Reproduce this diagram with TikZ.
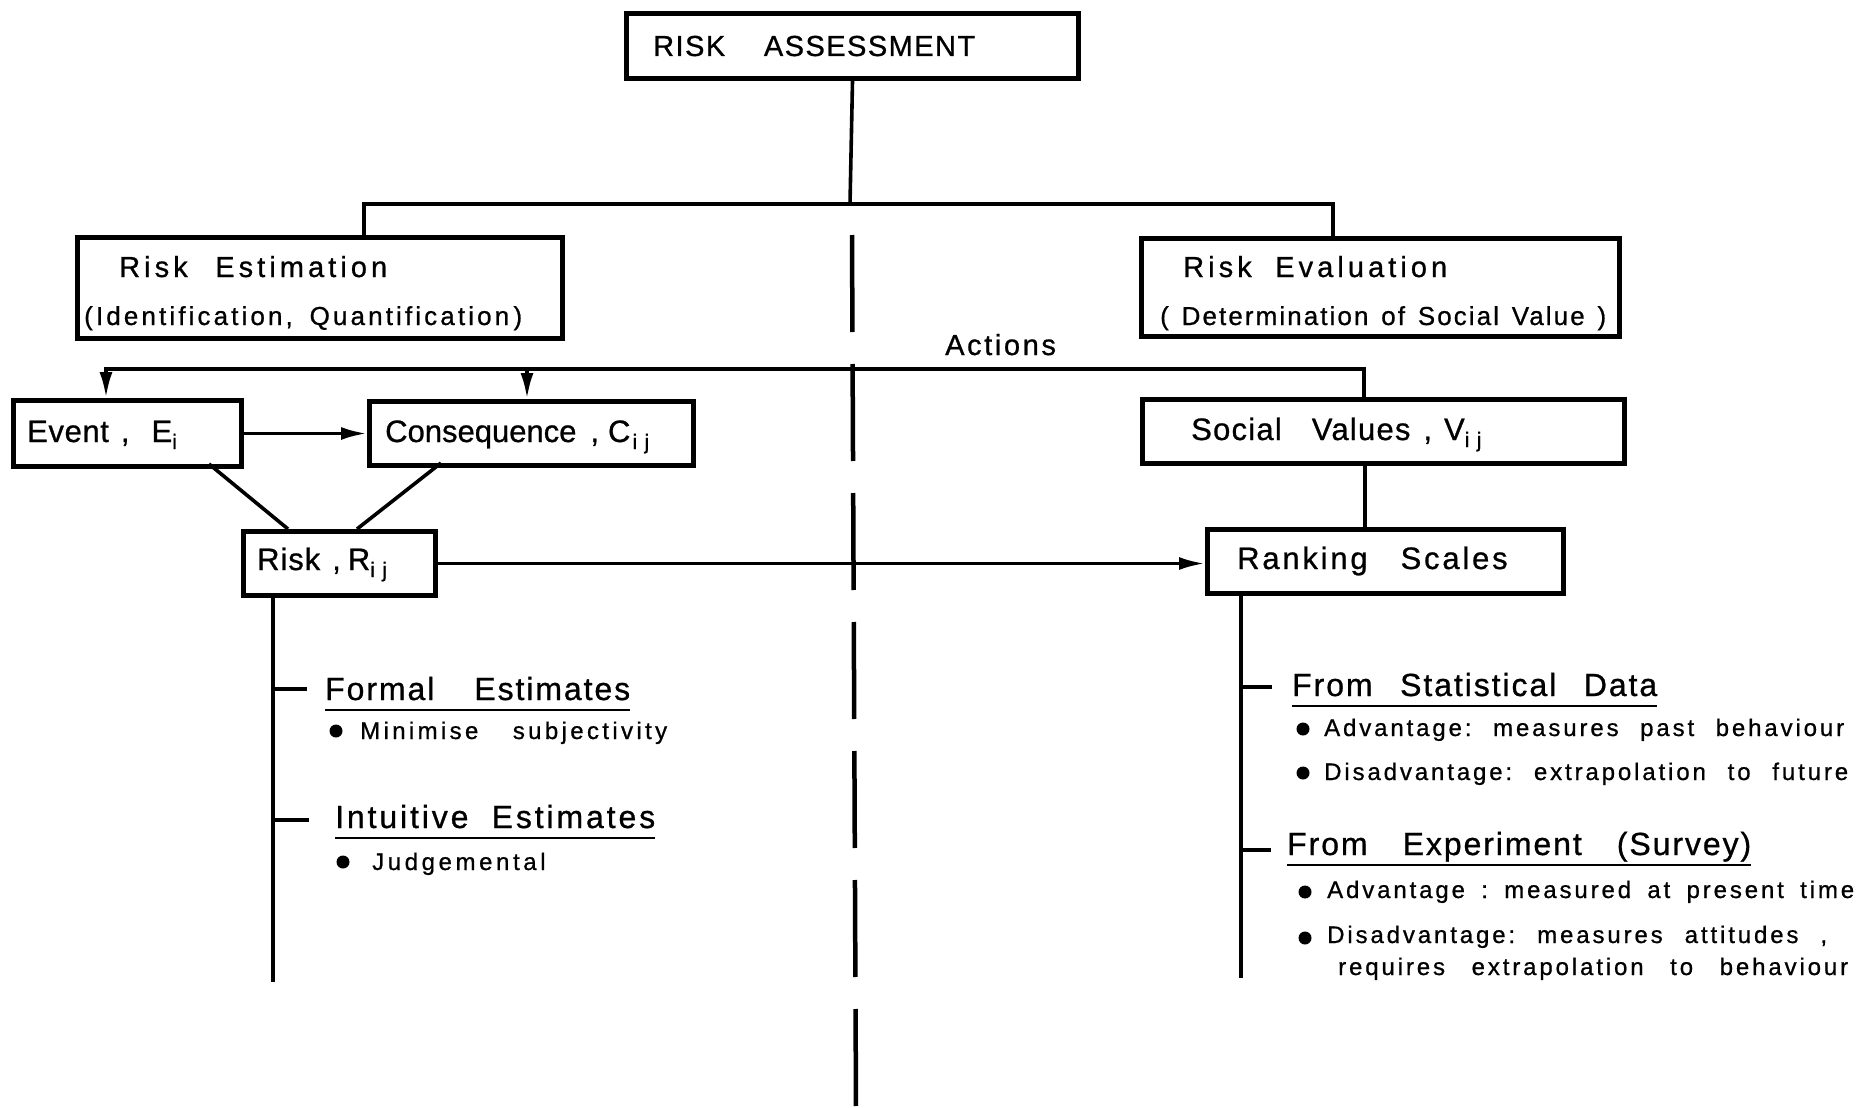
\documentclass[tikz,border=0pt]{standalone}
\usepackage{fontspec}
\setmainfont[FakeBold=0.8]{Liberation Sans}
\usetikzlibrary{arrows.meta}
\frenchspacing
\newcommand\spread[2]{\makebox[#1pt][s]{#2}}
\newcommand\ftx[2]{\fontsize{#1pt}{#1pt}\selectfont\addfontfeature{LetterSpace=#2}}
\newcommand\subs[1]{\raisebox{-7pt}{\fontsize{21pt}{21pt}\selectfont\addfontfeature{LetterSpace=35}#1}}
\begin{document}
\begin{tikzpicture}[x=1pt,y=-1pt,
  boxnode/.style={draw, line width=5pt, inner sep=0pt, anchor=north west},
  lbl/.style={inner sep=0pt, anchor=base west},
  ln/.style={line width=3.6pt},
  arr/.style={line width=3.6pt, -{Latex[length=26pt,width=13pt]}},
  ul/.style={line width=2.8pt},
  dotn/.style={circle, fill, inner sep=0pt, minimum size=13pt},
  dashln/.style={line width=4.5pt, dash pattern=on 97pt off 32pt}]

\useasboundingbox[fill=white] (0,0) rectangle (1864,1108);

% ---------- boxes
\node[boxnode, minimum width=452pt, minimum height=65pt] (ra) at (624,11) {};
\node[boxnode, minimum width=485pt, minimum height=101pt] (est) at (75,235) {};
\node[boxnode, minimum width=478pt, minimum height=98pt] (eva) at (1139,236) {};
\node[boxnode, minimum width=228pt, minimum height=66pt] (ev) at (11,398) {};
\node[boxnode, minimum width=324pt, minimum height=64pt] (con) at (367,399) {};
\node[boxnode, minimum width=482pt, minimum height=64pt] (sv) at (1140,397) {};
\node[boxnode, minimum width=192pt, minimum height=64pt] (rk) at (241,529) {};
\node[boxnode, minimum width=356pt, minimum height=64pt] (rs) at (1205,527) {};

% ---------- box texts
\node[lbl] (ra-t) at (653,56) {\ftx{29}{5}\spread{322}{RISK ASSESSMENT}};
\node[lbl] (est-t1) at (119,277) {\ftx{29}{14}\spread{268}{Risk Estimation}};
\node[lbl] (est-t2) at (84,325) {\ftx{26}{12}\spread{438}{(Identification,\hspace{2pt plus 20pt}Quantification\,)}};
\node[lbl] (eva-t1) at (1183,277) {\ftx{29}{14}\spread{264}{Risk Evaluation}};
\node[lbl] (eva-t2) at (1160,325) {\ftx{26}{8}\spread{446}{( Determination of Social Value )}};
\node[lbl] (act) at (945,355) {\ftx{29}{9}Actions};
\node[lbl] (ev-t) at (27,442) {\ftx{31}{2}Event\hspace{12pt},\hspace{22pt}E\subs{i}};
\node[lbl] (con-t) at (385,442) {\ftx{31}{0}Consequence\hspace{14pt},\hspace{9pt}C\hspace{2pt}\subs{ij}};
\node[lbl] (rk-t) at (257,570) {\ftx{31}{3}Risk\hspace{12pt},\hspace{7pt}R\subs{ij}};
\node[lbl] (sv-t) at (1191,440) {\ftx{31}{4}Social\hspace{30pt}Values\hspace{13pt},\hspace{12pt}V\subs{ij}};
\node[lbl] (rs-t) at (1237,569) {\ftx{31}{9}Ranking\hspace{33pt}Scales};

% ---------- lower left texts
\node[lbl] (h1) at (325,700) {\ftx{32}{6}\spread{305}{Formal Estimates}};
\node[lbl] (h2) at (335,828) {\ftx{32}{9}\spread{320}{Intuitive Estimates}};
\node[dotn] (d1) at (336,731) {};
\node[lbl] (b1) at (360,739) {\ftx{24}{14}\spread{307}{Minimise subjectivity}};
\node[dotn] (d2) at (343,862) {};
\node[lbl] (b2) at (372,870) {\ftx{24}{15}Judgemental};

% ---------- lower right texts
\node[lbl] (h3) at (1292,696) {\ftx{32}{6}\spread{365}{From Statistical Data}};
\node[lbl] (h4) at (1287,855) {\ftx{32}{6}\spread{464}{From Experiment (Survey)}};
\node[dotn] (d3) at (1303,729) {};
\node[lbl] (b3) at (1324,736) {\ftx{24}{12}\spread{520}{Advantage: measures past behaviour}};
\node[dotn] (d4) at (1303,773) {};
\node[lbl] (b4) at (1324,780) {\ftx{24}{12}\spread{524}{Disadvantage: extrapolation to future}};
\node[dotn] (d5) at (1305,892) {};
\node[lbl] (b5) at (1327,898) {\ftx{24}{12}\spread{527}{Advantage : measured at present time}};
\node[dotn] (d6) at (1305,938) {};
\node[lbl] (b6) at (1327,943) {\ftx{24}{12}\spread{500}{Disadvantage: measures attitudes ,}};
\node[lbl] (b7) at (1338,975) {\ftx{24}{12}\spread{510}{requires extrapolation to behaviour}};

% underlines
\foreach \h in {h1,h2,h3,h4}
  \draw[ul] ([yshift=-10pt]\h.base west) -- ([yshift=-10pt]\h.base east);

% ---------- coordinates
\coordinate (j0) at (850,204);
\coordinate (jL) at (364,204);
\coordinate (jR) at (1333,204);
\coordinate (aL) at (106,369);
\coordinate (aC) at (527,369);
\coordinate (aR) at (1364,369);
\coordinate (e1) at (209,464);
\coordinate (r1) at (288,529);
\coordinate (c1) at (441,463);
\coordinate (r2) at (357,529);
\coordinate (s1) at (1365,461);
\coordinate (k1) at (273,593);
\coordinate (k2) at (273,982);
\coordinate (kt1) at (273,689);
\coordinate (kt1e) at (307,689);
\coordinate (kt2) at (273,820);
\coordinate (kt2e) at (309,820);
\coordinate (q1) at (1241,591);
\coordinate (q2) at (1241,978);
\coordinate (qt1) at (1241,687);
\coordinate (qt1e) at (1272,687);
\coordinate (qt2) at (1241,850);
\coordinate (qt2e) at (1271,850);
\coordinate (m1) at (852,235);
\coordinate (m2) at (856,1108);

% ---------- connectors
\draw[ln] (ra.south) -- (j0);
\draw[ln] (jL |- est.north) -- (jL) -- (jR) -- (jR |- eva.north);
\draw[arr] (aR |- sv.north) -- (aR) -- (aL) -- (aL |- ev.north);
\draw[arr] (aC) -- (aC |- con.north);
\draw[arr] (ev.east) -- (con.west |- ev.east);
\draw[ln] (e1) -- (r1);
\draw[ln] (c1) -- (r2);
\draw[arr] (rk.east) -- (rk.east -| rs.west);
\draw[ln] (s1) -- (s1 |- rs.north);
\draw[ln] (k1) -- (k2);
\draw[ln] (kt1) -- (kt1e);
\draw[ln] (kt2) -- (kt2e);
\draw[ln] (q1) -- (q2);
\draw[ln] (qt1) -- (qt1e);
\draw[ln] (qt2) -- (qt2e);
\draw[dashln] (m1) -- (m2);
\end{tikzpicture}
\end{document}
